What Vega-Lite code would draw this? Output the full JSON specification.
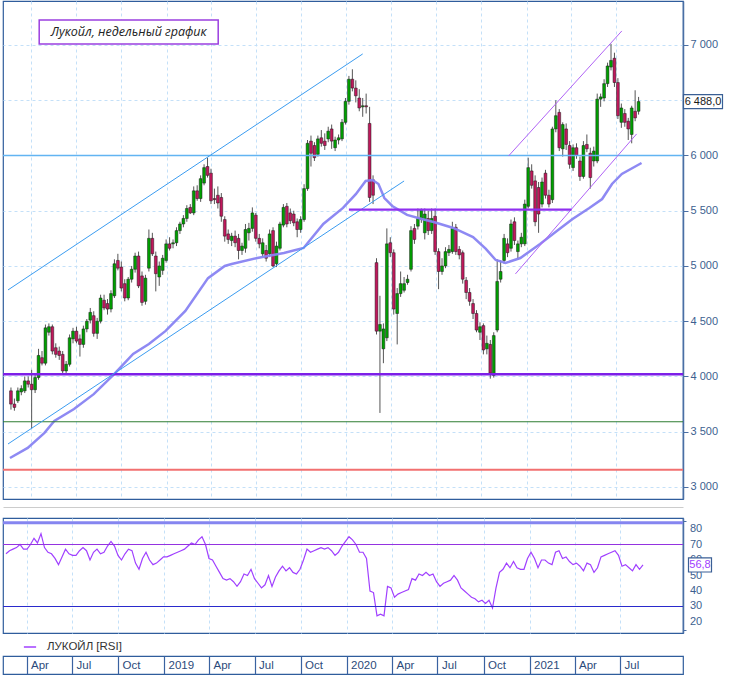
{
  "$schema": "https://vega.github.io/schema/vega-lite/v6.json",
  "padding": 0,
  "background": "white",
  "bounds": "flush",
  "spacing": 19,
  "config": {
    "font": "Liberation Sans",
    "view": {"stroke": "#2f5d9c", "strokeWidth": 1.2},
    "axis": {"labelFont": "Liberation Sans", "labelFontSize": 11, "labelColor": "#3d5f8f", "domainColor": "#4a6fa5", "tickColor": "#4a6fa5", "gridColor": "#c4e0f8", "gridDash": [3, 3], "labelOverlap": false}
  },
  "resolve": {"scale": {"color": "independent"}, "legend": {"color": "independent"}},
  "datasets": {
    "one": [{}],
    "rl": [{"v": 20}, {"v": 30}, {"v": 40}, {"v": 50}, {"v": 60}, {"v": 70}, {"v": 80}],
    "w": [
      {"d":"2018-02-19","o":3870,"h":3900,"l":3700,"c":3750,"r":64},
      {"d":"2018-02-26","o":3750,"h":3800,"l":3690,"c":3720,"r":66},
      {"d":"2018-03-05","o":3780,"h":3900,"l":3760,"c":3870,"r":67},
      {"d":"2018-03-12","o":3860,"h":3920,"l":3830,"c":3890,"r":68},
      {"d":"2018-03-19","o":3870,"h":4000,"l":3850,"c":3960,"r":70},
      {"d":"2018-03-26","o":3960,"h":4000,"l":3900,"c":3930,"r":67},
      {"d":"2018-04-02","o":3930,"h":4060,"l":3530,"c":3880,"r":67},
      {"d":"2018-04-09","o":3880,"h":4020,"l":3850,"c":3990,"r":70},
      {"d":"2018-04-16","o":3990,"h":4250,"l":3970,"c":4190,"r":74},
      {"d":"2018-04-23","o":4170,"h":4230,"l":4100,"c":4120,"r":71},
      {"d":"2018-04-30","o":4120,"h":4470,"l":4100,"c":4440,"r":77},
      {"d":"2018-05-07","o":4400,"h":4480,"l":4370,"c":4450,"r":68},
      {"d":"2018-05-14","o":4450,"h":4470,"l":4200,"c":4230,"r":65},
      {"d":"2018-05-21","o":4260,"h":4300,"l":4170,"c":4200,"r":64},
      {"d":"2018-05-28","o":4230,"h":4270,"l":4150,"c":4190,"r":61},
      {"d":"2018-06-04","o":4200,"h":4230,"l":4020,"c":4050,"r":57},
      {"d":"2018-06-11","o":4050,"h":4140,"l":4030,"c":4110,"r":62},
      {"d":"2018-06-18","o":4110,"h":4380,"l":4090,"c":4350,"r":67},
      {"d":"2018-06-25","o":4340,"h":4440,"l":4300,"c":4410,"r":64},
      {"d":"2018-07-02","o":4410,"h":4450,"l":4300,"c":4320,"r":63},
      {"d":"2018-07-09","o":4340,"h":4380,"l":4180,"c":4290,"r":63},
      {"d":"2018-07-16","o":4290,"h":4460,"l":4260,"c":4430,"r":66},
      {"d":"2018-07-23","o":4430,"h":4520,"l":4400,"c":4500,"r":68},
      {"d":"2018-07-30","o":4510,"h":4620,"l":4480,"c":4580,"r":66},
      {"d":"2018-08-06","o":4550,"h":4590,"l":4360,"c":4390,"r":60},
      {"d":"2018-08-13","o":4390,"h":4530,"l":4340,"c":4500,"r":65},
      {"d":"2018-08-20","o":4500,"h":4740,"l":4480,"c":4710,"r":67},
      {"d":"2018-08-27","o":4690,"h":4740,"l":4600,"c":4620,"r":64},
      {"d":"2018-09-03","o":4660,"h":4700,"l":4560,"c":4610,"r":65},
      {"d":"2018-09-10","o":4610,"h":4780,"l":4580,"c":4750,"r":69},
      {"d":"2018-09-17","o":4730,"h":5060,"l":4710,"c":5020,"r":72},
      {"d":"2018-09-24","o":5050,"h":5110,"l":4960,"c":4980,"r":69},
      {"d":"2018-10-01","o":4990,"h":5040,"l":4770,"c":4800,"r":63},
      {"d":"2018-10-08","o":4840,"h":4880,"l":4680,"c":4710,"r":60},
      {"d":"2018-10-15","o":4710,"h":4900,"l":4690,"c":4880,"r":64},
      {"d":"2018-10-22","o":4880,"h":5000,"l":4850,"c":4970,"r":67},
      {"d":"2018-10-29","o":4970,"h":5120,"l":4940,"c":5090,"r":66},
      {"d":"2018-11-05","o":5090,"h":5130,"l":4800,"c":4820,"r":58},
      {"d":"2018-11-12","o":4910,"h":4950,"l":4640,"c":4670,"r":54},
      {"d":"2018-11-19","o":4680,"h":4920,"l":4650,"c":4890,"r":61},
      {"d":"2018-11-26","o":4980,"h":5330,"l":4950,"c":5250,"r":65},
      {"d":"2018-12-03","o":5250,"h":5300,"l":5090,"c":5110,"r":60},
      {"d":"2018-12-10","o":5090,"h":5130,"l":4770,"c":4930,"r":57},
      {"d":"2018-12-17","o":4900,"h":5040,"l":4820,"c":5000,"r":58},
      {"d":"2018-12-24","o":4960,"h":5100,"l":4920,"c":5070,"r":60},
      {"d":"2018-12-31","o":5050,"h":5240,"l":5030,"c":5200,"r":62},
      {"d":"2019-01-07","o":5200,"h":5260,"l":5140,"c":5160,"r":62},
      {"d":"2019-01-14","o":5200,"h":5240,"l":5160,"c":5210,"r":63},
      {"d":"2019-01-21","o":5210,"h":5350,"l":5180,"c":5320,"r":64},
      {"d":"2019-01-28","o":5320,"h":5400,"l":5290,"c":5380,"r":65},
      {"d":"2019-02-04","o":5380,"h":5460,"l":5350,"c":5430,"r":66},
      {"d":"2019-02-11","o":5430,"h":5550,"l":5400,"c":5520,"r":67},
      {"d":"2019-02-18","o":5530,"h":5560,"l":5470,"c":5480,"r":69},
      {"d":"2019-02-25","o":5480,"h":5720,"l":5460,"c":5680,"r":71},
      {"d":"2019-03-04","o":5680,"h":5730,"l":5590,"c":5610,"r":70},
      {"d":"2019-03-11","o":5610,"h":5820,"l":5580,"c":5790,"r":73},
      {"d":"2019-03-18","o":5750,"h":5920,"l":5730,"c":5890,"r":75},
      {"d":"2019-03-25","o":5900,"h":5980,"l":5800,"c":5820,"r":70},
      {"d":"2019-04-01","o":5840,"h":5880,"l":5560,"c":5590,"r":61},
      {"d":"2019-04-08","o":5610,"h":5700,"l":5560,"c":5600,"r":60},
      {"d":"2019-04-15","o":5640,"h":5720,"l":5520,"c":5570,"r":56},
      {"d":"2019-04-22","o":5620,"h":5660,"l":5400,"c":5450,"r":52},
      {"d":"2019-04-29","o":5420,"h":5450,"l":5220,"c":5270,"r":48},
      {"d":"2019-05-06","o":5290,"h":5330,"l":5200,"c":5240,"r":47},
      {"d":"2019-05-13","o":5230,"h":5300,"l":5180,"c":5270,"r":48},
      {"d":"2019-05-20","o":5270,"h":5320,"l":5170,"c":5210,"r":46},
      {"d":"2019-05-27","o":5250,"h":5290,"l":5060,"c":5140,"r":43},
      {"d":"2019-06-03","o":5140,"h":5210,"l":5100,"c":5180,"r":46},
      {"d":"2019-06-10","o":5160,"h":5380,"l":5120,"c":5330,"r":51},
      {"d":"2019-06-17","o":5300,"h":5390,"l":5230,"c":5340,"r":50},
      {"d":"2019-06-24","o":5340,"h":5530,"l":5310,"c":5480,"r":54},
      {"d":"2019-07-01","o":5460,"h":5480,"l":5220,"c":5250,"r":48},
      {"d":"2019-07-08","o":5250,"h":5290,"l":5160,"c":5200,"r":45},
      {"d":"2019-07-15","o":5110,"h":5250,"l":5080,"c":5210,"r":42},
      {"d":"2019-07-22","o":5140,"h":5190,"l":5040,"c":5070,"r":44},
      {"d":"2019-07-29","o":5110,"h":5330,"l":5080,"c":5290,"r":50},
      {"d":"2019-08-05","o":5320,"h":5350,"l":4990,"c":5000,"r":43},
      {"d":"2019-08-12","o":5020,"h":5220,"l":4990,"c":5180,"r":49},
      {"d":"2019-08-19","o":5160,"h":5400,"l":5140,"c":5380,"r":53},
      {"d":"2019-08-26","o":5370,"h":5560,"l":5350,"c":5530,"r":56},
      {"d":"2019-09-02","o":5540,"h":5570,"l":5350,"c":5380,"r":53},
      {"d":"2019-09-09","o":5480,"h":5520,"l":5380,"c":5410,"r":55},
      {"d":"2019-09-16","o":5470,"h":5500,"l":5360,"c":5390,"r":52},
      {"d":"2019-09-23","o":5400,"h":5430,"l":5260,"c":5330,"r":51},
      {"d":"2019-09-30","o":5330,"h":5450,"l":5300,"c":5420,"r":54},
      {"d":"2019-10-07","o":5420,"h":5740,"l":5400,"c":5700,"r":60},
      {"d":"2019-10-14","o":5700,"h":6140,"l":5680,"c":6110,"r":67},
      {"d":"2019-10-21","o":6130,"h":6180,"l":5900,"c":6020,"r":65},
      {"d":"2019-10-28","o":6090,"h":6120,"l":5950,"c":5980,"r":66},
      {"d":"2019-11-04","o":6010,"h":6180,"l":5990,"c":6150,"r":67},
      {"d":"2019-11-11","o":6160,"h":6230,"l":6080,"c":6110,"r":68},
      {"d":"2019-11-18","o":6130,"h":6200,"l":6050,"c":6090,"r":67},
      {"d":"2019-11-25","o":6150,"h":6260,"l":6120,"c":6220,"r":68},
      {"d":"2019-12-02","o":6240,"h":6280,"l":6060,"c":6130,"r":66},
      {"d":"2019-12-09","o":6070,"h":6170,"l":6040,"c":6140,"r":63},
      {"d":"2019-12-16","o":6140,"h":6190,"l":6100,"c":6160,"r":65},
      {"d":"2019-12-23","o":6150,"h":6330,"l":6130,"c":6300,"r":69},
      {"d":"2019-12-30","o":6300,"h":6520,"l":6280,"c":6490,"r":72},
      {"d":"2020-01-06","o":6490,"h":6720,"l":6460,"c":6690,"r":75},
      {"d":"2020-01-13","o":6690,"h":6780,"l":6580,"c":6610,"r":73},
      {"d":"2020-01-20","o":6610,"h":6680,"l":6480,"c":6540,"r":70},
      {"d":"2020-01-27","o":6520,"h":6600,"l":6400,"c":6430,"r":65},
      {"d":"2020-02-03","o":6440,"h":6520,"l":6350,"c":6450,"r":65},
      {"d":"2020-02-10","o":6450,"h":6560,"l":6380,"c":6440,"r":61},
      {"d":"2020-02-17","o":6290,"h":6440,"l":5580,"c":5620,"r":40},
      {"d":"2020-02-24","o":5780,"h":5820,"l":5560,"c":5640,"r":39},
      {"d":"2020-03-02","o":5030,"h":5070,"l":4380,"c":4410,"r":24},
      {"d":"2020-03-09","o":4410,"h":4730,"l":3670,"c":4470,"r":25},
      {"d":"2020-03-16","o":4250,"h":4480,"l":4120,"c":4430,"r":24},
      {"d":"2020-03-23","o":4350,"h":5340,"l":4320,"c":5200,"r":43},
      {"d":"2020-03-30","o":5210,"h":5260,"l":5080,"c":5120,"r":42},
      {"d":"2020-04-06","o":5120,"h":5150,"l":4560,"c":4610,"r":36},
      {"d":"2020-04-13","o":4570,"h":4800,"l":4290,"c":4750,"r":38},
      {"d":"2020-04-20","o":4750,"h":4950,"l":4720,"c":4840,"r":39},
      {"d":"2020-04-27","o":4780,"h":4900,"l":4760,"c":4840,"r":40},
      {"d":"2020-05-04","o":4850,"h":4920,"l":4830,"c":4880,"r":41},
      {"d":"2020-05-11","o":4970,"h":5360,"l":4950,"c":5320,"r":48},
      {"d":"2020-05-18","o":5340,"h":5380,"l":5200,"c":5240,"r":47},
      {"d":"2020-05-25","o":5360,"h":5520,"l":5330,"c":5430,"r":51},
      {"d":"2020-06-01","o":5420,"h":5520,"l":5390,"c":5510,"r":50},
      {"d":"2020-06-08","o":5300,"h":5520,"l":5240,"c":5470,"r":52},
      {"d":"2020-06-15","o":5430,"h":5500,"l":5280,"c":5320,"r":50},
      {"d":"2020-06-22","o":5320,"h":5520,"l":5290,"c":5430,"r":51},
      {"d":"2020-06-29","o":5450,"h":5520,"l":5100,"c":5130,"r":46},
      {"d":"2020-07-06","o":5130,"h":5160,"l":4790,"c":4950,"r":43},
      {"d":"2020-07-13","o":4950,"h":5070,"l":4920,"c":5000,"r":45},
      {"d":"2020-07-20","o":5000,"h":5170,"l":4980,"c":5130,"r":46},
      {"d":"2020-07-27","o":5120,"h":5190,"l":5090,"c":5150,"r":47},
      {"d":"2020-08-03","o":5130,"h":5400,"l":5110,"c":5340,"r":50},
      {"d":"2020-08-10","o":5350,"h":5380,"l":5100,"c":5130,"r":47},
      {"d":"2020-08-17","o":5150,"h":5180,"l":5060,"c":5100,"r":42},
      {"d":"2020-08-24","o":5120,"h":5140,"l":4840,"c":4880,"r":40},
      {"d":"2020-08-31","o":4870,"h":4900,"l":4700,"c":4760,"r":38},
      {"d":"2020-09-07","o":4760,"h":4800,"l":4640,"c":4680,"r":36},
      {"d":"2020-09-14","o":4660,"h":4700,"l":4520,"c":4570,"r":35},
      {"d":"2020-09-21","o":4570,"h":4600,"l":4400,"c":4420,"r":33},
      {"d":"2020-09-28","o":4400,"h":4490,"l":4330,"c":4450,"r":34},
      {"d":"2020-10-05","o":4460,"h":4480,"l":4200,"c":4240,"r":32},
      {"d":"2020-10-12","o":4250,"h":4370,"l":4200,"c":4300,"r":34},
      {"d":"2020-10-19","o":4290,"h":4330,"l":3980,"c":4030,"r":29},
      {"d":"2020-10-26","o":4010,"h":4400,"l":3990,"c":4370,"r":42},
      {"d":"2020-11-02","o":4420,"h":5060,"l":4400,"c":4860,"r":52},
      {"d":"2020-11-09","o":4880,"h":5050,"l":4850,"c":4950,"r":54},
      {"d":"2020-11-16","o":5050,"h":5290,"l":5020,"c":5250,"r":58},
      {"d":"2020-11-23","o":5200,"h":5250,"l":5080,"c":5120,"r":55},
      {"d":"2020-11-30","o":5160,"h":5420,"l":5130,"c":5380,"r":59},
      {"d":"2020-12-07","o":5400,"h":5440,"l":5190,"c":5230,"r":55},
      {"d":"2020-12-14","o":5130,"h":5230,"l":5060,"c":5200,"r":54},
      {"d":"2020-12-21","o":5200,"h":5300,"l":5170,"c":5260,"r":54},
      {"d":"2020-12-28","o":5200,"h":5600,"l":5180,"c":5560,"r":61},
      {"d":"2021-01-04","o":5540,"h":5980,"l":5520,"c":5890,"r":65},
      {"d":"2021-01-11","o":5860,"h":5920,"l":5700,"c":5730,"r":61},
      {"d":"2021-01-18","o":5770,"h":5820,"l":5360,"c":5400,"r":55},
      {"d":"2021-01-25","o":5710,"h":5760,"l":5300,"c":5470,"r":60},
      {"d":"2021-02-01","o":5560,"h":5800,"l":5530,"c":5760,"r":60},
      {"d":"2021-02-08","o":5840,"h":5870,"l":5610,"c":5640,"r":58},
      {"d":"2021-02-15","o":5640,"h":5690,"l":5530,"c":5560,"r":57},
      {"d":"2021-02-22","o":5600,"h":6260,"l":5570,"c":6240,"r":65},
      {"d":"2021-03-01","o":6240,"h":6500,"l":6210,"c":6360,"r":66},
      {"d":"2021-03-08","o":6390,"h":6420,"l":6040,"c":6070,"r":61},
      {"d":"2021-03-15","o":6060,"h":6300,"l":5990,"c":6280,"r":62},
      {"d":"2021-03-22","o":6240,"h":6290,"l":6050,"c":6100,"r":59},
      {"d":"2021-03-29","o":6090,"h":6130,"l":5880,"c":5920,"r":57},
      {"d":"2021-04-05","o":5890,"h":6100,"l":5860,"c":6070,"r":58},
      {"d":"2021-04-12","o":6070,"h":6110,"l":5970,"c":6000,"r":56},
      {"d":"2021-04-19","o":5950,"h":5990,"l":5770,"c":5810,"r":53},
      {"d":"2021-04-26","o":5810,"h":6130,"l":5790,"c":6090,"r":58},
      {"d":"2021-05-03","o":6100,"h":6190,"l":6030,"c":6060,"r":57},
      {"d":"2021-05-10","o":6020,"h":6070,"l":5700,"c":5800,"r":52},
      {"d":"2021-05-17","o":5950,"h":6080,"l":5900,"c":6040,"r":55},
      {"d":"2021-05-24","o":5950,"h":6560,"l":5930,"c":6510,"r":62},
      {"d":"2021-05-31","o":6510,"h":6560,"l":6440,"c":6530,"r":63},
      {"d":"2021-06-07","o":6520,"h":6690,"l":6490,"c":6650,"r":64},
      {"d":"2021-06-14","o":6650,"h":6840,"l":6620,"c":6810,"r":65},
      {"d":"2021-06-21","o":6800,"h":7010,"l":6770,"c":6860,"r":66},
      {"d":"2021-06-28","o":6880,"h":6930,"l":6620,"c":6660,"r":63},
      {"d":"2021-07-05","o":6660,"h":6700,"l":6330,"c":6360,"r":56},
      {"d":"2021-07-12","o":6300,"h":6470,"l":6250,"c":6430,"r":57},
      {"d":"2021-07-19","o":6380,"h":6420,"l":6260,"c":6300,"r":55},
      {"d":"2021-07-26","o":6310,"h":6340,"l":6140,"c":6240,"r":53},
      {"d":"2021-08-02","o":6190,"h":6450,"l":6110,"c":6430,"r":57},
      {"d":"2021-08-09","o":6400,"h":6590,"l":6310,"c":6340,"r":54},
      {"d":"2021-08-16","o":6400,"h":6530,"l":6370,"c":6488,"r":56.8}
    ],
    "ma": [
      {"d":"2018-02-17","v":3262},
      {"d":"2018-03-25","v":3353},
      {"d":"2018-04-28","v":3490},
      {"d":"2018-05-18","v":3597},
      {"d":"2018-06-27","v":3706},
      {"d":"2018-08-06","v":3840},
      {"d":"2018-09-15","v":4014},
      {"d":"2018-10-25","v":4204},
      {"d":"2018-11-26","v":4294},
      {"d":"2018-12-30","v":4412},
      {"d":"2019-02-08","v":4593},
      {"d":"2019-03-26","v":4890},
      {"d":"2019-04-29","v":5000},
      {"d":"2019-05-13","v":5018},
      {"d":"2019-07-04","v":5072},
      {"d":"2019-08-27","v":5118},
      {"d":"2019-10-06","v":5163},
      {"d":"2019-11-15","v":5380},
      {"d":"2019-12-25","v":5525},
      {"d":"2020-01-20","v":5650},
      {"d":"2020-02-09","v":5769},
      {"d":"2020-02-23","v":5778},
      {"d":"2020-03-06","v":5742},
      {"d":"2020-03-18","v":5615},
      {"d":"2020-04-03","v":5543},
      {"d":"2020-05-03","v":5462},
      {"d":"2020-06-02","v":5425},
      {"d":"2020-06-26","v":5398},
      {"d":"2020-08-05","v":5344},
      {"d":"2020-09-14","v":5262},
      {"d":"2020-10-10","v":5154},
      {"d":"2020-10-30","v":5054},
      {"d":"2020-11-19","v":5027},
      {"d":"2020-12-19","v":5072},
      {"d":"2021-01-28","v":5199},
      {"d":"2021-03-03","v":5317},
      {"d":"2021-04-04","v":5425},
      {"d":"2021-05-08","v":5525},
      {"d":"2021-06-03","v":5606},
      {"d":"2021-06-23","v":5742},
      {"d":"2021-07-13","v":5833},
      {"d":"2021-08-22","v":5932}
    ],
    "seg": [
      {"g":"blue","d1":"2018-02-13","v1":4783,"d2":"2020-02-03","v2":6919},
      {"g":"blue","d1":"2018-02-13","v1":3389,"d2":"2020-04-27","v2":5769},
      {"g":"violet","d1":"2020-11-25","v1":5995,"d2":"2021-07-13","v2":7127},
      {"g":"violet","d1":"2020-12-09","v1":4928,"d2":"2021-08-12","v2":6195},
      {"g":"level","d1":"2020-01-06","v1":5510,"d2":"2021-04-02","v2":5510}
    ]
  },
  "vconcat": [
    {
      "width": 680,
      "height": 498,
      "layer": [
        {
          "data": {"name": "w"},
          "mark": {"type": "rule", "color": "#555555", "strokeWidth": 1},
          "encoding": {
            "x": {
              "field": "d", "type": "temporal", "title": null,
              "scale": {"type": "utc", "domain": [{"year": 2018, "month": 2, "date": 13, "utc": true}, {"year": 2021, "month": 11, "date": 4, "utc": true}]},
              "axis": {
                "values": [
                  {"year": 2018, "month": 4, "date": 1, "utc": true}, {"year": 2018, "month": 7, "date": 1, "utc": true}, {"year": 2018, "month": 10, "date": 1, "utc": true},
                  {"year": 2019, "month": 1, "date": 1, "utc": true}, {"year": 2019, "month": 4, "date": 1, "utc": true}, {"year": 2019, "month": 7, "date": 1, "utc": true}, {"year": 2019, "month": 10, "date": 1, "utc": true},
                  {"year": 2020, "month": 1, "date": 1, "utc": true}, {"year": 2020, "month": 4, "date": 1, "utc": true}, {"year": 2020, "month": 7, "date": 1, "utc": true}, {"year": 2020, "month": 10, "date": 1, "utc": true},
                  {"year": 2021, "month": 1, "date": 1, "utc": true}, {"year": 2021, "month": 4, "date": 1, "utc": true}, {"year": 2021, "month": 7, "date": 1, "utc": true}
                ],
                "labels": false, "ticks": false, "domain": true, "domainColor": "#cccccc", "offset": 8,
                "grid": true, "zindex": 0
              }
            },
            "y": {
              "field": "l", "type": "quantitative", "title": null,
              "scale": {"domain": [2891, 7398], "nice": false, "zero": false},
              "axis": {
                "orient": "right",
                "values": [3000, 3250, 3500, 3750, 4000, 4250, 4500, 4750, 5000, 5250, 5500, 5750, 6000, 6250, 6500, 6750, 7000, 7250],
                "labelExpr": "datum.value % 500 == 0 && datum.value != 6500 ? replace(format(datum.value, ','), ',', ' ') : ''",
                "tickSize": {"condition": {"test": "datum.value % 500 == 0", "value": 5}, "value": 3},
                "gridColor": {"condition": {"test": "datum.value % 500 == 0", "value": "#c4e0f8"}, "value": "transparent"},
                "labelOverlap": false,
                "domainWidth": 1.5, "labelPadding": 2, "grid": true, "zindex": 0
              }
            },
            "y2": {"field": "h"}
          }
        },
        {
          "data": {"name": "w"},
          "mark": {"type": "bar", "width": 2.8, "stroke": "#1a1a1a", "strokeWidth": 0.5},
          "encoding": {
            "x": {"field": "d", "type": "temporal", "title": null},
            "y": {"field": "o", "type": "quantitative", "title": null},
            "y2": {"field": "c"},
            "color": {"condition": {"test": "datum.c >= datum.o", "value": "#00a000"}, "value": "#c0185c"}
          }
        },
        {
          "data": {"name": "ma"},
          "mark": {"type": "line", "color": "#8883f2", "strokeWidth": 2.5, "opacity": 0.95},
          "encoding": {
            "x": {"field": "d", "type": "temporal", "title": null},
            "y": {"field": "v", "type": "quantitative", "title": null}
          }
        },
        {
          "data": {"name": "one"},
          "mark": {"type": "rule", "color": "#62b4f2", "strokeWidth": 1.5},
          "encoding": {"y": {"datum": 6000, "type": "quantitative"}}
        },
        {
          "data": {"name": "one"},
          "mark": {"type": "rule", "color": "#7d1fe8", "strokeWidth": 2.6},
          "encoding": {"y": {"datum": 4020, "type": "quantitative"}}
        },
        {
          "data": {"name": "one"},
          "mark": {"type": "rule", "color": "#2e7d32", "strokeWidth": 1},
          "encoding": {"y": {"datum": 3590, "type": "quantitative"}}
        },
        {
          "data": {"name": "one"},
          "mark": {"type": "rule", "color": "#f27070", "strokeWidth": 2},
          "encoding": {"y": {"datum": 3155, "type": "quantitative"}}
        },
        {
          "data": {"name": "seg"},
          "transform": [{"filter": "datum.g == 'blue'"}],
          "mark": {"type": "rule", "color": "#3b9cf0", "strokeWidth": 1},
          "encoding": {
            "x": {"field": "d1", "type": "temporal", "title": null},
            "x2": {"field": "d2"},
            "y": {"field": "v1", "type": "quantitative", "title": null},
            "y2": {"field": "v2"}
          }
        },
        {
          "data": {"name": "seg"},
          "transform": [{"filter": "datum.g == 'violet'"}],
          "mark": {"type": "rule", "color": "#b063f5", "strokeWidth": 1},
          "encoding": {
            "x": {"field": "d1", "type": "temporal", "title": null},
            "x2": {"field": "d2"},
            "y": {"field": "v1", "type": "quantitative", "title": null},
            "y2": {"field": "v2"}
          }
        },
        {
          "data": {"name": "seg"},
          "transform": [{"filter": "datum.g == 'level'"}],
          "mark": {"type": "rule", "color": "#8f2ff0", "strokeWidth": 2.4},
          "encoding": {
            "x": {"field": "d1", "type": "temporal", "title": null},
            "x2": {"field": "d2"},
            "y": {"field": "v1", "type": "quantitative", "title": null},
            "y2": {"field": "v2"}
          }
        },
        {
          "data": {"name": "one"},
          "mark": {"type": "point", "shape": "M-1,-0.134H1V0.134H-1Z", "size": 32041, "filled": true, "fill": "white", "fillOpacity": 1, "stroke": "#9b3fe0", "strokeWidth": 1.5, "opacity": 1},
          "encoding": {
            "x": {"datum": {"year": 2018, "month": 10, "date": 16, "utc": true}, "type": "temporal"},
            "y": {"datum": 7118, "type": "quantitative"}
          }
        },
        {
          "data": {"name": "one"},
          "mark": {"type": "text", "text": "Лукойл, недельный график", "font": "Open Sans", "fontStyle": "italic", "fontSize": 12.5, "color": "#222222", "align": "center", "baseline": "middle"},
          "encoding": {
            "x": {"datum": {"year": 2018, "month": 10, "date": 16, "utc": true}, "type": "temporal"},
            "y": {"datum": 7118, "type": "quantitative"}
          }
        },
        {
          "data": {"name": "one"},
          "mark": {"type": "point", "shape": "M-1,-0.36H1V0.36H-1Z", "size": 1521, "filled": true, "fill": "white", "fillOpacity": 1, "stroke": "#3a5f95", "strokeWidth": 1.2, "opacity": 1, "xOffset": 25},
          "encoding": {
            "x": {"datum": {"year": 2021, "month": 11, "date": 4, "utc": true}, "type": "temporal"},
            "y": {"datum": 6488, "type": "quantitative"}
          }
        },
        {
          "data": {"name": "one"},
          "mark": {"type": "text", "text": "6 488,0", "font": "Liberation Sans", "fontSize": 11, "color": "#1a1a1a", "align": "center", "baseline": "middle", "dx": 25},
          "encoding": {
            "x": {"datum": {"year": 2021, "month": 11, "date": 4, "utc": true}, "type": "temporal"},
            "y": {"datum": 6488, "type": "quantitative"}
          }
        }
      ]
    },
    {
      "bounds": "flush",
      "spacing": 23,
      "vconcat": [
        {
          "width": 680,
          "height": 115,
          "layer": [
            {
              "data": {"name": "w"},
              "mark": {"type": "line", "strokeWidth": 1.2},
              "encoding": {
                "x": {
                  "field": "d", "type": "temporal", "title": null,
                  "scale": {"type": "utc", "domain": [{"year": 2018, "month": 2, "date": 13, "utc": true}, {"year": 2021, "month": 11, "date": 4, "utc": true}]},
                  "axis": {
                    "values": [
                      {"year": 2018, "month": 4, "date": 1, "utc": true}, {"year": 2018, "month": 7, "date": 1, "utc": true}, {"year": 2018, "month": 10, "date": 1, "utc": true},
                      {"year": 2019, "month": 1, "date": 1, "utc": true}, {"year": 2019, "month": 4, "date": 1, "utc": true}, {"year": 2019, "month": 7, "date": 1, "utc": true}, {"year": 2019, "month": 10, "date": 1, "utc": true},
                      {"year": 2020, "month": 1, "date": 1, "utc": true}, {"year": 2020, "month": 4, "date": 1, "utc": true}, {"year": 2020, "month": 7, "date": 1, "utc": true}, {"year": 2020, "month": 10, "date": 1, "utc": true},
                      {"year": 2021, "month": 1, "date": 1, "utc": true}, {"year": 2021, "month": 4, "date": 1, "utc": true}, {"year": 2021, "month": 7, "date": 1, "utc": true}
                    ],
                    "labels": false, "ticks": false, "domain": false, "grid": true, "zindex": 0
                  }
                },
                "y": {
                  "field": "r", "type": "quantitative", "title": null,
                  "scale": {"domain": [12.9, 87.1], "nice": false, "zero": false},
                  "axis": {
                    "orient": "right",
                    "values": [15, 20, 25, 30, 35, 40, 45, 50, 55, 60, 65, 70, 75, 80, 85],
                    "labels": false,
                    "tickSize": {"condition": {"test": "datum.value % 10 == 0", "value": 5}, "value": 3},
                    "gridColor": {"condition": {"test": "datum.value % 10 == 0", "value": "#c4e0f8"}, "value": "transparent"},
                    "domainWidth": 1.5, "grid": true, "zindex": 0
                  }
                },
                "color": {
                  "datum": "ЛУКОЙЛ [RSI]", "type": "nominal",
                  "scale": {"range": ["#a040ff"]},
                  "legend": {"orient": "none", "legendX": 20, "legendY": 122, "title": null, "symbolType": "stroke", "symbolStrokeWidth": 1.5, "symbolSize": 150, "labelFontSize": 11.5, "labelColor": "#333333", "labelFont": "Liberation Sans", "labelOffset": 10}
                }
              }
            },
            {
              "data": {"name": "one"},
              "mark": {"type": "rule", "color": "#8585f0", "strokeWidth": 3},
              "encoding": {"y": {"datum": 84, "type": "quantitative"}}
            },
            {
              "data": {"name": "one"},
              "mark": {"type": "rule", "color": "#9433e0", "strokeWidth": 1.2},
              "encoding": {"y": {"datum": 70, "type": "quantitative"}}
            },
            {
              "data": {"name": "one"},
              "mark": {"type": "rule", "color": "#2a2acc", "strokeWidth": 1.2},
              "encoding": {"y": {"datum": 30, "type": "quantitative"}}
            },
            {
              "data": {"name": "rl"},
              "mark": {"type": "text", "font": "Liberation Sans", "fontSize": 11, "color": "#3d5f8f", "align": "left", "baseline": "middle", "dx": 7},
              "encoding": {
                "x": {"datum": {"year": 2021, "month": 11, "date": 4, "utc": true}, "type": "temporal"},
                "y": {"field": "v", "type": "quantitative", "title": null},
                "text": {"field": "v", "type": "quantitative"}
              }
            },
            {
              "data": {"name": "one"},
              "mark": {"type": "point", "shape": "M-1,-0.61H1V0.61H-1Z", "size": 529, "filled": true, "fill": "white", "fillOpacity": 1, "stroke": "#3a5f95", "strokeWidth": 1.2, "opacity": 1, "xOffset": 17},
              "encoding": {
                "x": {"datum": {"year": 2021, "month": 11, "date": 4, "utc": true}, "type": "temporal"},
                "y": {"datum": 56.8, "type": "quantitative"}
              }
            },
            {
              "data": {"name": "one"},
              "mark": {"type": "text", "text": "56,8", "font": "Liberation Sans", "fontSize": 11, "color": "#a040ff", "align": "center", "baseline": "middle", "dx": 17},
              "encoding": {
                "x": {"datum": {"year": 2021, "month": 11, "date": 4, "utc": true}, "type": "temporal"},
                "y": {"datum": 56.8, "type": "quantitative"}
              }
            }
          ]
        },
        {
          "width": 680,
          "height": 18,
          "data": {"name": "w"},
          "mark": {"type": "point", "opacity": 0},
          "encoding": {
            "x": {
              "field": "d", "type": "temporal", "title": null,
              "scale": {"type": "utc", "domain": [{"year": 2018, "month": 2, "date": 13, "utc": true}, {"year": 2021, "month": 11, "date": 4, "utc": true}]},
              "axis": {
                "values": [
                  {"year": 2018, "month": 4, "date": 1, "utc": true}, {"year": 2018, "month": 7, "date": 1, "utc": true}, {"year": 2018, "month": 10, "date": 1, "utc": true},
                  {"year": 2019, "month": 1, "date": 1, "utc": true}, {"year": 2019, "month": 4, "date": 1, "utc": true}, {"year": 2019, "month": 7, "date": 1, "utc": true}, {"year": 2019, "month": 10, "date": 1, "utc": true},
                  {"year": 2020, "month": 1, "date": 1, "utc": true}, {"year": 2020, "month": 4, "date": 1, "utc": true}, {"year": 2020, "month": 7, "date": 1, "utc": true}, {"year": 2020, "month": 10, "date": 1, "utc": true},
                  {"year": 2021, "month": 1, "date": 1, "utc": true}, {"year": 2021, "month": 4, "date": 1, "utc": true}, {"year": 2021, "month": 7, "date": 1, "utc": true}
                ],
                "labelExpr": "utcFormat(datum.value, utcmonth(datum.value) == 0 ? '%Y' : '%b')",
                "ticks": false, "tickSize": 0, "domain": false,
                "grid": true, "gridColor": "#3a62a0", "gridDash": [], "gridWidth": 1.2,
                "labelAlign": "left", "labelPadding": -15, "labelOffset": 4,
                "labelFontSize": 11.5, "labelColor": "#2b4a7a",
                "labelFlush": false, "labelOverlap": false, "labelBound": false
              }
            }
          }
        }
      ]
    }
  ]
}
